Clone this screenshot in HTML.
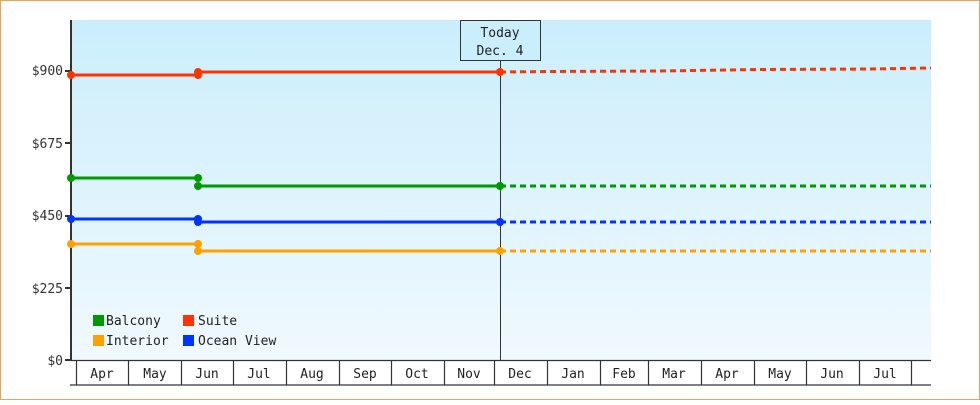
<!DOCTYPE html>
<html><head><style>
body{margin:0;width:980px;height:400px;overflow:hidden;background:#fff}
</style></head><body>
<svg width="980" height="400" xmlns="http://www.w3.org/2000/svg" font-family="'DejaVu Sans Mono','Liberation Mono',monospace" font-size="13">
<defs><linearGradient id="g" x1="0" y1="0" x2="0" y2="1"><stop offset="0" stop-color="#cbeefc"/><stop offset="1" stop-color="#f0f9fe"/></linearGradient></defs>
<rect x="0.5" y="0.5" width="979" height="399" fill="#fff" stroke="#e9a557"/>
<rect x="71" y="20" width="860" height="340" fill="url(#g)"/>
<g fill="#333" text-anchor="end">
<text x="63" y="75">$900</text><text x="63" y="148">$675</text><text x="63" y="220">$450</text><text x="63" y="293">$225</text><text x="63" y="365">$0</text>
</g>
<g stroke="#333" stroke-width="2"><line x1="71" y1="20" x2="71" y2="361"/>
<line x1="65" y1="71" x2="71" y2="71"/><line x1="65" y1="143" x2="71" y2="143"/><line x1="65" y1="216" x2="71" y2="216"/><line x1="65" y1="288" x2="71" y2="288"/><line x1="65" y1="360" x2="71" y2="360"/></g>
<g stroke="#333" stroke-width="1.2" fill="none">
<line x1="71" y1="360.5" x2="931" y2="360.5"/><line x1="70" y1="385" x2="931" y2="385"/>
<path d="M76.5 360V385M128.5 360V385M181.5 360V385M233.5 360V385M286.5 360V385M339.5 360V385M391.5 360V385M444.5 360V385M494.5 360V385M547.5 360V385M600.5 360V385M648.5 360V385M701.5 360V385M754.5 360V385M806.5 360V385M859.5 360V385M911.5 360V385"/>
</g>
<g fill="#222" text-anchor="middle">
<text x="102" y="378">Apr</text><text x="155" y="378">May</text><text x="207" y="378">Jun</text><text x="259" y="378">Jul</text><text x="312" y="378">Aug</text><text x="365" y="378">Sep</text><text x="417" y="378">Oct</text><text x="469" y="378">Nov</text><text x="520" y="378">Dec</text><text x="573" y="378">Jan</text><text x="624" y="378">Feb</text><text x="674" y="378">Mar</text><text x="727" y="378">Apr</text><text x="780" y="378">May</text><text x="832" y="378">Jun</text><text x="885" y="378">Jul</text>
</g>
<line x1="500.5" y1="60" x2="500.5" y2="360" stroke="#333"/>
<rect x="460.5" y="20.5" width="80" height="40" fill="#cbeefc" stroke="#333"/>
<text x="500" y="37" text-anchor="middle" fill="#222">Today</text>
<text x="500" y="55" text-anchor="middle" fill="#222">Dec. 4</text>
<g stroke-width="3" fill="none">
<path d="M71 75H198M198 72H500" stroke="#ff3300"/>
<path d="M500 72L550 71.5L660 71L760 69.5L870 69L931 68" stroke="#ff3300" stroke-dasharray="6,4"/>
<path d="M71 178H198M198 186H500" stroke="#009900"/>
<path d="M500 186H931" stroke="#009900" stroke-dasharray="6,4"/>
<path d="M71 219H198M198 222H500" stroke="#0033ff"/>
<path d="M500 222H931" stroke="#0033ff" stroke-dasharray="6,4"/>
<path d="M71 244H198M198 251H500" stroke="#ffa200"/>
<path d="M500 251H931" stroke="#ffa200" stroke-dasharray="6,4"/>
</g>
<g>
<g fill="#ff3300"><circle cx="71" cy="75" r="4"/><circle cx="198" cy="75" r="4"/><circle cx="198" cy="72" r="4"/><circle cx="500" cy="72" r="4"/></g>
<g fill="#009900"><circle cx="71" cy="178" r="4"/><circle cx="198" cy="178" r="4"/><circle cx="198" cy="186" r="4"/><circle cx="500" cy="186" r="4"/></g>
<g fill="#0033ff"><circle cx="71" cy="219" r="4"/><circle cx="198" cy="219" r="4"/><circle cx="198" cy="222" r="4"/><circle cx="500" cy="222" r="4"/></g>
<g fill="#ffa200"><circle cx="71" cy="244" r="4"/><circle cx="198" cy="244" r="4"/><circle cx="198" cy="251" r="4"/><circle cx="500" cy="251" r="4"/></g>
</g>
<rect x="93" y="315" width="11" height="11" fill="#009900"/><text x="106" y="325" fill="#222">Balcony</text>
<rect x="183" y="315" width="11" height="11" fill="#ff3300"/><text x="198" y="325" fill="#222">Suite</text>
<rect x="93" y="335" width="11" height="11" fill="#ffa200"/><text x="106" y="345" fill="#222">Interior</text>
<rect x="183" y="335" width="11" height="11" fill="#0033ff"/><text x="198" y="345" fill="#222">Ocean View</text>
</svg>
</body></html>
